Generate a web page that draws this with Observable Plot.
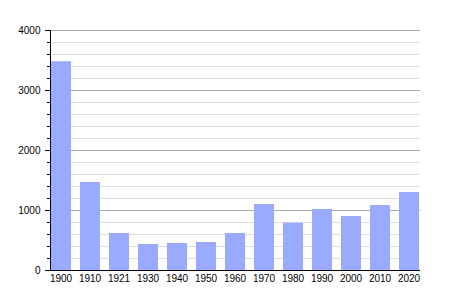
<!DOCTYPE html>
<html>
<head>
<meta charset="utf-8">
<script src="https://cdn.jsdelivr.net/npm/d3@7"></script>
<script src="https://cdn.jsdelivr.net/npm/@observablehq/plot@0.6"></script>
<style>
  html, body { margin: 0; padding: 0; background: #fff; }
  #chart svg { display: block; }
</style>
</head>
<body>
<div id="chart"></div>
<script>
const years = ["1900","1910","1921","1930","1940","1950","1960","1970","1980","1990","2000","2010","2020"];
const population = [3480, 1467, 617, 433, 450, 467, 617, 1100, 789, 1017, 900, 1083, 1300];
const majorTicks = [0, 1000, 2000, 3000, 4000];
const minorTicks = [200, 400, 600, 800, 1200, 1400, 1600, 1800, 2200, 2400, 2600, 2800, 3200, 3400, 3600, 3800];

const data = years.map((y, i) => ({year: y, value: population[i]}));

const chart = Plot.plot({
  width: 450,
  height: 300,
  marginLeft: 50,
  marginRight: 30,
  marginTop: 30,
  marginBottom: 30,
  style: {fontFamily: "'Liberation Sans', Arial, sans-serif", fontSize: "10px", background: "#fff", color: "#000"},
  x: {domain: years, paddingInner: 0.28, paddingOuter: 0, align: 0, label: null},
  y: {domain: [0, 4000], label: null},
  marks: [
    Plot.gridY(minorTicks, {stroke: "#dddddd", strokeOpacity: 1}),
    Plot.gridY(majorTicks, {stroke: "#aaaaaa", strokeOpacity: 1}),
    Plot.barY(data, {x: "year", y: "value", fill: "#99aaff", insetLeft: 1}),
    Plot.axisY(minorTicks, {tickSize: 3, tickFormat: () => "", stroke: "#000"}),
    Plot.axisY(majorTicks, {tickSize: 5, tickPadding: 5, tickFormat: d => String(d), stroke: "#000"}),
    Plot.axisX({tickSize: 0, tickPadding: 4}),
    Plot.frame({anchor: "left", stroke: "#000"}),
    Plot.ruleY([0], {stroke: "#000"})
  ]
});
document.getElementById("chart").appendChild(chart);
</script>
</body>
</html>
